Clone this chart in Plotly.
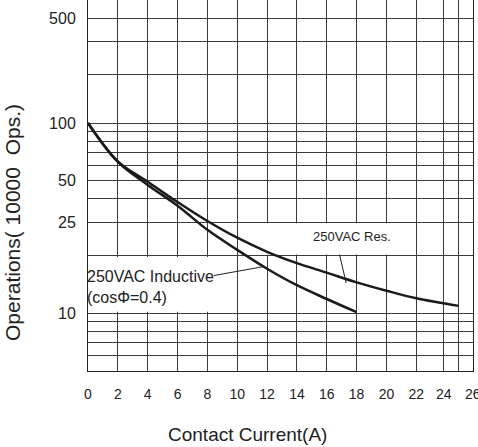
import plotly.graph_objects as go

# ---- data ----
x_res = [0, 2, 4, 6, 8, 10, 12, 14, 16, 18, 20, 22, 24.85]
y_res = [100, 62.8, 49.1, 38.4, 30.5, 24.9, 21.0, 18.3, 16.3, 14.5, 13.1, 11.95, 10.9]

x_ind = [0, 2, 4, 6, 8, 10, 12, 14, 16, 18]
y_ind = [100, 62.4, 47.2, 36.7, 27.4, 21.5, 17.1, 14.0, 11.85, 10.1]

x_tickvals = [0, 2, 4, 6, 8, 10, 12, 14, 16, 18, 20, 22, 23.84, 24.85, 25.78]
x_ticktext = ["0", "2", "4", "6", "8", "10", "12", "14", "16", "18", "20", "22", "24", "", "26"]

y_tickvals = [357, 270, 179, 100, 90, 80, 70, 60, 50, 40, 30, 20, 10, 9, 8, 7, 6]
y_ticktext = ["500", "", "", "100", "", "", "", "", "50", "", "25", "", "10", "", "", "", ""]

label_res = "250VAC Res."
label_ind = "250VAC Inductive<br>(cosΦ=0.4)"
x_title = "Contact Current(A)"
y_title = "Operations( 10000  Ops.)"

REG = "Liberation Sans, Arial, sans-serif"
GRID = "#3c3c3c"

fig = go.Figure()
fig.add_trace(go.Scatter(x=x_res, y=y_res, mode="lines", line=dict(color="#1a1a1a", width=2.5, shape="spline"),
                         showlegend=False, hoverinfo="skip"))
fig.add_trace(go.Scatter(x=x_ind, y=y_ind, mode="lines", line=dict(color="#1a1a1a", width=2.5, shape="spline"),
                         showlegend=False, hoverinfo="skip"))

# white blocks that interrupt the vertical grid (label areas)
fig.add_shape(type="rect", xref="x", yref="y", x0=10.08, x1=21.92, y0=20.3, y1=29.7,
              fillcolor="white", line=dict(width=0), layer="between")
fig.add_shape(type="rect", xref="x", yref="y", x0=0.08, x1=9.92, y0=10.15, y1=19.7,
              fillcolor="white", line=dict(width=0), layer="between")

# labels
fig.add_annotation(x=17.67, y=1.405, xref="x", yref="y", text=label_res, showarrow=False,
                   font=dict(family=REG, size=13, color="#222"), xanchor="center", yanchor="middle")
fig.add_annotation(x=0, y=1.17, xref="x", yref="y", text=label_ind, showarrow=False,
                   font=dict(family=REG, size=16, color="#222"), xanchor="left", yanchor="middle",
                   align="left", xshift=-3, yshift=-6)
# pointer lines
fig.add_annotation(x=17.3, y=1.158, xref="x", yref="y", text="", showarrow=True, arrowhead=0,
                   arrowwidth=1, arrowcolor="#222", ax=-7, ay=-30)
fig.add_annotation(x=11.68, y=1.243, xref="x", yref="y", text="", showarrow=True, arrowhead=0,
                   arrowwidth=1, arrowcolor="#222", ax=-50, ay=9)

# axis titles (placed off-centre as in the reference)
fig.add_annotation(x=0.413, y=0, xref="paper", yref="paper", text=x_title, showarrow=False,
                   font=dict(family=REG, size=19, color="#222"), xanchor="center", yanchor="middle", yshift=-63)
fig.add_annotation(x=0, y=0.399, xref="paper", yref="paper", text=y_title, showarrow=False, textangle=-90,
                   font=dict(family=REG, size=21, color="#222"), xanchor="center", yanchor="middle", xshift=-75)

fig.update_xaxes(range=[0, 25.8], tickmode="array", tickvals=x_tickvals, ticktext=x_ticktext,
                 showgrid=True, gridcolor=GRID, gridwidth=1, zeroline=False, automargin=False,
                 showline=True, linecolor="#222", linewidth=1, ticks="", ticklabelstandoff=10,
                 ticklabeloverflow="allow",
                 tickfont=dict(family=REG, size=14, color="#222"))
fig.update_yaxes(type="log", range=[0.6947, 2.6474], tickmode="array", tickvals=y_tickvals, ticktext=y_ticktext,
                 showgrid=True, gridcolor=GRID, gridwidth=1, zeroline=False, automargin=False,
                 showline=True, mirror=True, linecolor="#222", linewidth=1, ticks="",
                 tickfont=dict(family=REG, size=16, color="#222"), ticklabelstandoff=8)

fig.update_layout(width=478, height=447, margin=dict(l=88, r=5, t=0, b=76),
                  plot_bgcolor="white", paper_bgcolor="white", showlegend=False)

fig.write_html("out.html", config={"displayModeBar": False},
               post_script="document.body.style.margin='0';document.body.style.overflow='hidden';")
